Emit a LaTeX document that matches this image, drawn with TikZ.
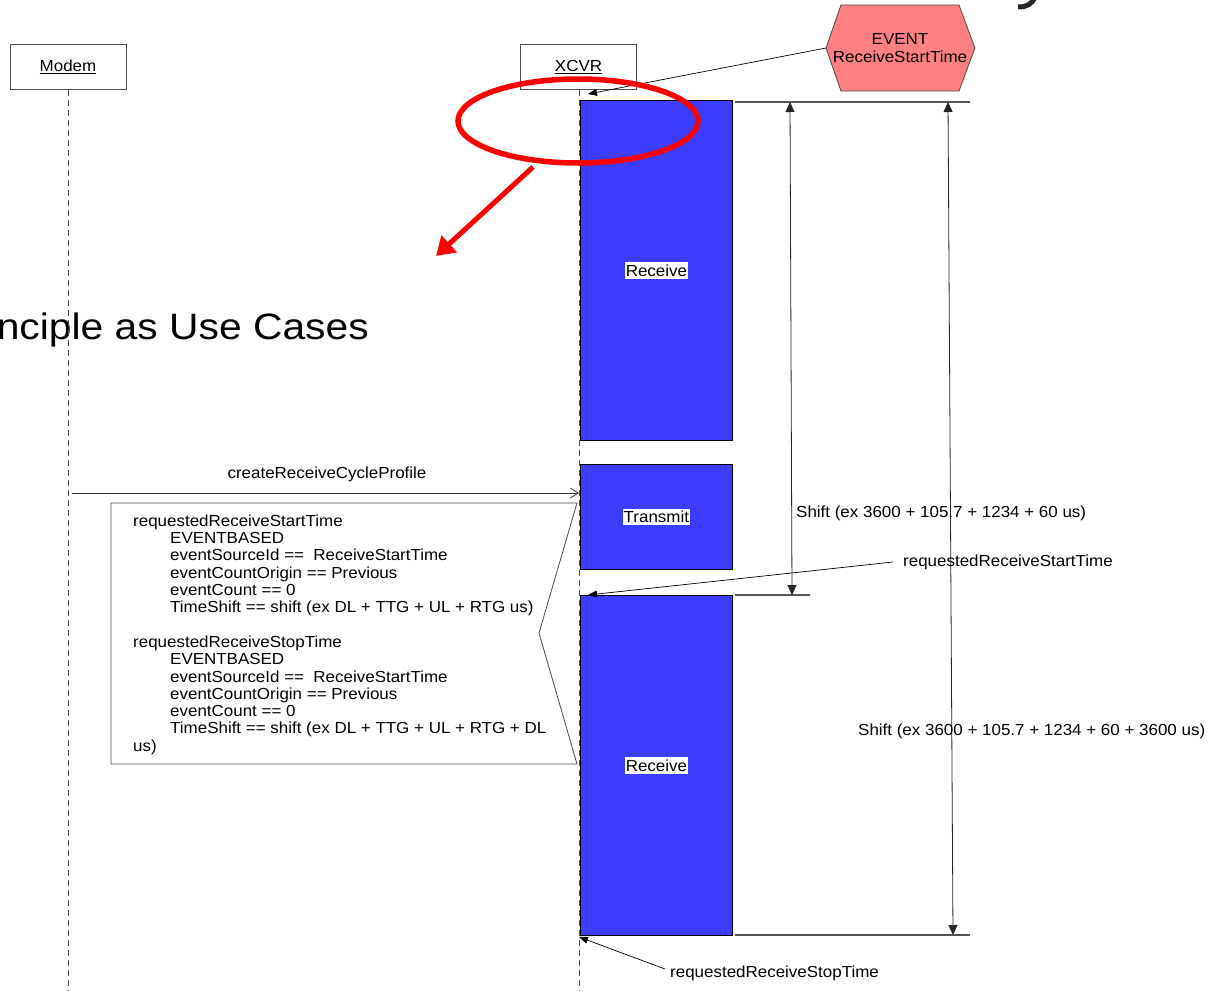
\documentclass[tikz,border=0pt]{standalone}
\usepackage{fontspec}
\usepackage{graphicx}
\setmainfont{Liberation Sans}[FakeStretch=1.06]
\usetikzlibrary{arrows.meta}
\definecolor{boxblue}{RGB}{61,61,255}
\definecolor{eventred}{RGB}{255,128,128}
\definecolor{rulegray}{RGB}{85,85,85}
\definecolor{markred}{RGB}{255,0,0}

\begin{document}
\begin{tikzpicture}[x=1pt,y=-1pt,
  every node/.style={font=\fontsize{16}{17.3}\selectfont, inner sep=0pt},
  actor/.style={draw=black!70, line width=0.8pt, minimum width=116pt, minimum height=45pt, fill=white},
  lifeline/.style={draw=black!70, dash pattern=on 6pt off 4pt, line width=0.8pt},
  activity/.style={draw=black, fill=boxblue, line width=0.8pt, anchor=north west},
  tag/.style={fill=white, inner xsep=1pt, inner ysep=2.5pt},
  rulerline/.style={draw=rulegray, line width=1.4pt},
  dimline/.style={draw=black!85, line width=0.8pt, {Triangle[length=10pt,width=9pt]}-{Triangle[length=10pt,width=9pt]}},
  pointer/.style={draw=black, line width=0.7pt, -{Triangle[length=9pt,width=7pt]}},
  callmsg/.style={draw=black!80, line width=0.8pt, -{Straight Barb[length=8pt,width=10pt]}},
]
\clip (0,0) rectangle (1209,990);
\fill[white] (0,0) rectangle (1209,990);

% fragment of a large heading at the top edge
\draw[black!85, line width=5pt] (1018,7) .. controls (1027,7) and (1032,4) .. (1035,-3);

% big heading text, cut at the left edge
\node[anchor=base east] (heading) at (369,339)
  {\scalebox{1.1}[1.05]{\fontsize{35}{40}\selectfont nciple as Use Cases}};

% actors and lifelines
\node[actor] (modem) at (68,67) {\underline{Modem}};
\node[actor] (xcvr) at (578.5,67) {\underline{XCVR}};
\coordinate (modemend) at (68,992);
\coordinate (xcvrend) at (579,992);
\draw[lifeline] (modem.south) -- (modemend);
\draw[lifeline] (579,89.5) -- (xcvrend);

% note attached to the XCVR lifeline
\draw[draw=black!70, line width=0.8pt, fill=white]
  (111,503) -- (577,503) -- (539,633) -- (577,764) -- (111,764) -- cycle;
\node[anchor=north west, align=left] (notetext) at (133,514.5) {%
requestedReceiveStartTime\\
\hspace*{37pt}EVENTBASED\\
\hspace*{37pt}eventSourceId ==\ \ ReceiveStartTime\\
\hspace*{37pt}eventCountOrigin == Previous\\
\hspace*{37pt}eventCount == 0\\
\hspace*{37pt}TimeShift == shift (ex DL + TTG + UL + RTG us)\\[17.3pt]
requestedReceiveStopTime\\
\hspace*{37pt}EVENTBASED\\
\hspace*{37pt}eventSourceId ==\ \ ReceiveStartTime\\
\hspace*{37pt}eventCountOrigin == Previous\\
\hspace*{37pt}eventCount == 0\\
\hspace*{37pt}TimeShift == shift (ex DL + TTG + UL + RTG + DL\\
us)};

% message
\coordinate (msgstart) at (72,493);
\coordinate (msgend) at (579,493);
\draw[callmsg] (msgstart) -- (msgend);
\node (msglabel) at (327,474) {createReceiveCycleProfile};

% activity blocks
\node[activity, minimum width=152pt, minimum height=340pt] (rx1) at (580,100) {};
\node[activity, minimum width=152pt, minimum height=105pt] (tx) at (580,464) {};
\node[activity, minimum width=152pt, minimum height=340pt] (rx2) at (580,595) {};
\node[tag] at (rx1.center) {Receive};
\node[tag] at (tx.center) {Transmit};
\node[tag] at (rx2.center) {Receive};

% timing rulers
\coordinate (ta) at (735,102);  \coordinate (tb) at (970,102);
\coordinate (ma) at (735,595);  \coordinate (mb) at (810,595);
\coordinate (ba) at (735,935);  \coordinate (bb) at (970,935);
\draw[rulerline] (ta) -- (tb);
\draw[rulerline] (ma) -- (mb);
\draw[rulerline] (ba) -- (bb);
\coordinate (d1a) at (790,102);  \coordinate (d1b) at (792,595);
\coordinate (d2a) at (948,102);  \coordinate (d2b) at (953,935);
\draw[dimline] (d1a) -- (d1b);
\draw[dimline] (d2a) -- (d2b);
\node[anchor=west] (shift1) at (796,513) {Shift (ex 3600 + 105.7 + 1234 + 60 us)};
\node[anchor=west] (shift2) at (858,731) {Shift (ex 3600 + 105.7 + 1234 + 60 + 3600 us)};

% event hexagon
\coordinate (evleft) at (826,48);
\fill[eventred] (evleft) -- (841,5) -- (959,5) -- (975,48) -- (959,91) -- (841,91) -- cycle;
\draw[black!70, line width=0.8pt] (evleft) -- (841,5) -- (959,5) -- (975,48) -- (959,91) -- (841,91) -- cycle;
\node[align=center] (ev) at (900,48) {EVENT\\ReceiveStartTime};

% pointers to the lifeline
\coordinate (xstart) at (588,94);
\draw[pointer] (evleft) -- (xstart);
\node[anchor=west] (startlbl) at (903,562) {requestedReceiveStartTime};
\coordinate (startfrom) at (893,562);
\coordinate (startto) at (588,595);
\draw[pointer] (startfrom) -- (startto);
\node[anchor=west] (stoplbl) at (670,973) {requestedReceiveStopTime};
\coordinate (stopfrom) at (665,969);
\coordinate (stopto) at (579,937);
\draw[pointer] (stopfrom) -- (stopto);

% red highlight
\draw[markred, line width=5.5pt] (578,121) ellipse [x radius=120pt, y radius=42pt];
\coordinate (hlfrom) at (533,167);
\coordinate (hlto) at (436,256);
\draw[markred, line width=5pt, -{Triangle[length=18pt,width=22pt]}] (hlfrom) -- (hlto);
\end{tikzpicture}
\end{document}
